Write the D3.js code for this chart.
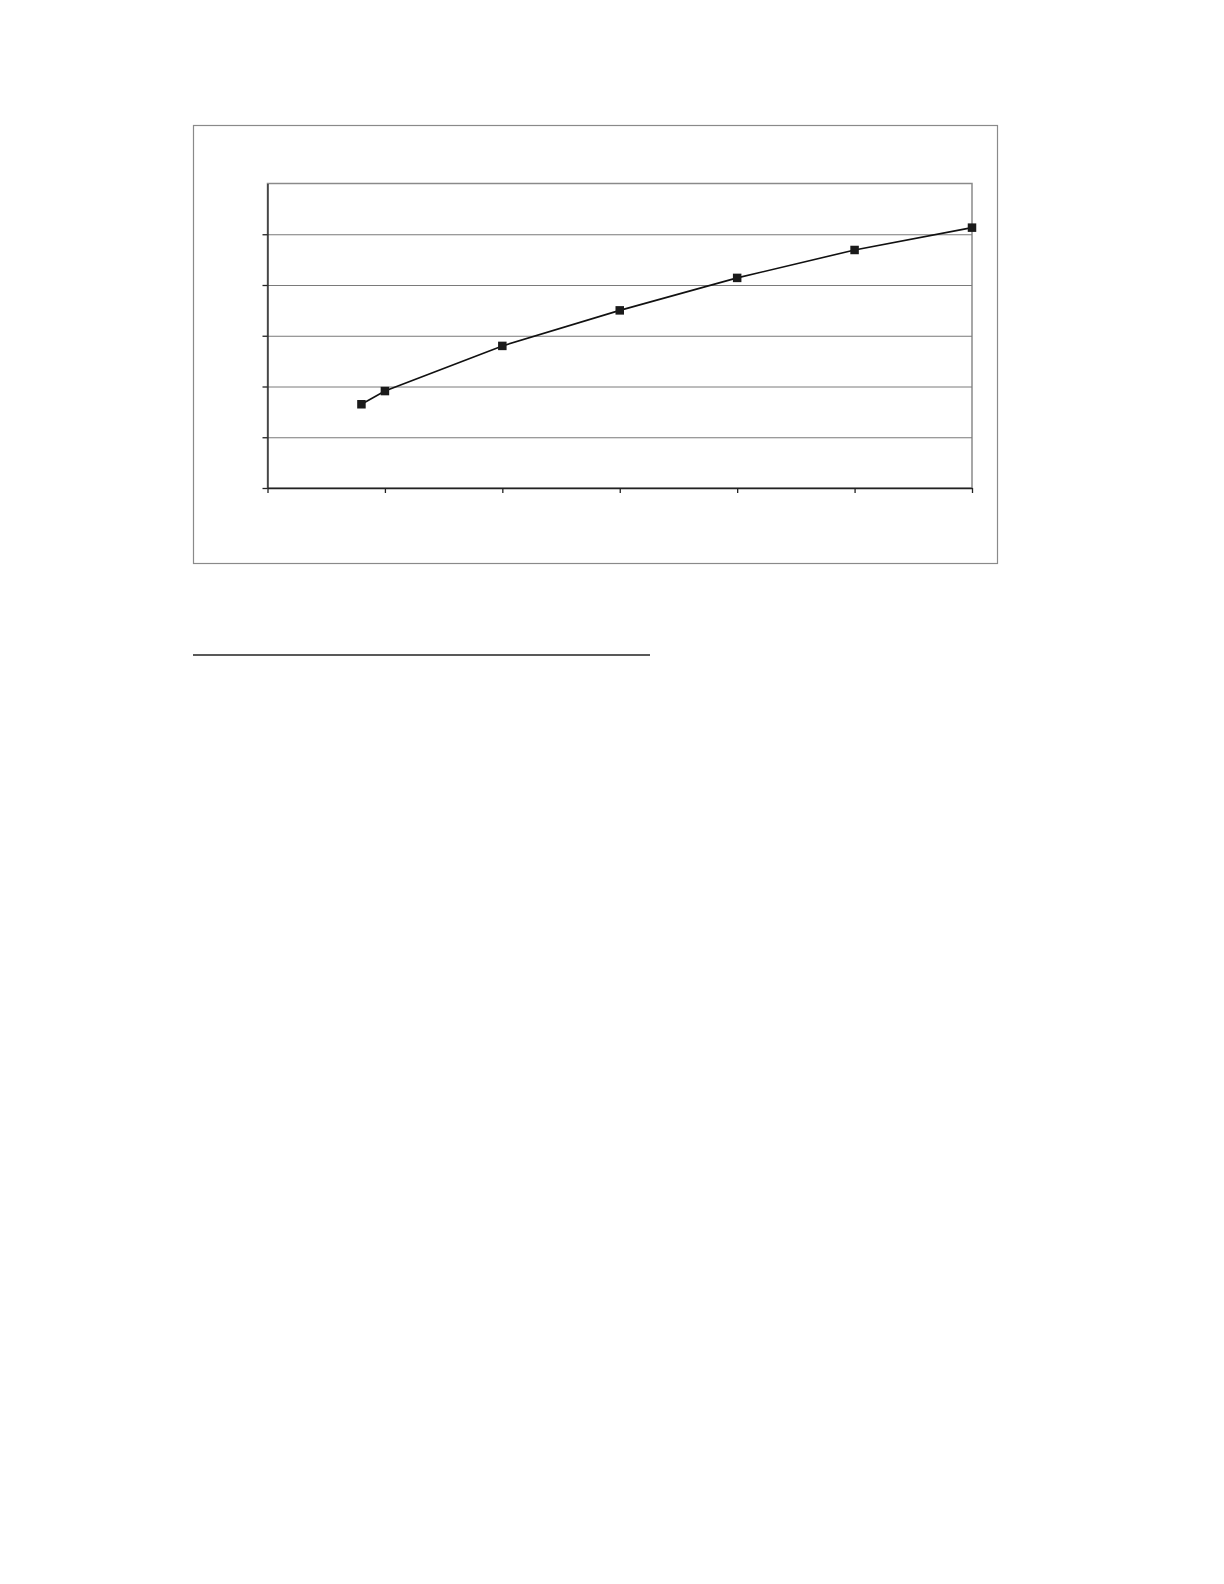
<!DOCTYPE html>
<html>
<head>
<meta charset="utf-8">
<script src="https://cdn.jsdelivr.net/npm/d3@7"></script>
<style>
  body { margin: 0; background: #fff; }
  .grid line { stroke: #7a7a7a; stroke-width: 1; }
  .grid path { display: none; }
  .axis path, .axis line { stroke: #222; stroke-width: 1.3; }
  .axis text { display: none; }
</style>
</head>
<body>
<div id="chart"></div>
<script>
// Data (no labels are printed on the original)
var x_values = [4, 5, 10, 15, 20, 25, 30];
var y_values = [16.5, 19.1, 28.0, 35.0, 41.4, 46.9, 51.3];
var x_ticks = [0, 5, 10, 15, 20, 25, 30];
var y_ticks = [0, 10, 20, 30, 40, 50, 60];

var pageWidth = 1224
var pageHeight = 1584

// outer chart frame and plot area
var frame = {x: 193, y: 125, w: 804, h: 438}
var plot = {left: 267.5, top: 183.5, right: 972, bottom: 488}

var x_scale = d3.scaleLinear()
    .domain([0, 30])
    .range([plot.left, plot.right]);
var y_scale = d3.scaleLinear()
    .domain([0, 60])
    .range([plot.bottom, plot.top]);

var svg = d3.select('#chart')
  .append('svg')
  .attr('width', pageWidth)
  .attr('height', pageHeight)
  .style("background-color", "white")

// Outer frame
svg.append("rect")
    .attr("x", frame.x + 0.5)
    .attr("y", frame.y + 0.5)
    .attr("width", frame.w)
    .attr("height", frame.h)
    .style("fill", "none")
    .style("stroke", "#8a8a8a")
    .style("stroke-width", 1.2)

// Plot area border (top + right in grey)
svg.append("rect")
    .attr("x", plot.left)
    .attr("y", plot.top)
    .attr("width", plot.right - plot.left)
    .attr("height", plot.bottom - plot.top)
    .style("fill", "none")
    .style("stroke", "#8a8a8a")
    .style("stroke-width", 1.5)

// Horizontal gridlines
svg.append("g")
    .attr("class", "grid")
    .attr("transform", "translate(" + plot.left + ",0)")
    .call(d3.axisLeft(y_scale)
        .tickValues(y_ticks.slice(1, -1))
        .tickSize(-(plot.right - plot.left))
        .tickFormat("")
    )

// Axes
svg.append("g")
    .attr("class", "axis")
    .attr("transform", "translate(0," + plot.bottom + ")")
    .call(d3.axisBottom(x_scale)
        .tickValues(x_ticks)
        .tickSizeInner(5)
        .tickSizeOuter(0)
        .tickFormat("")
    )

// y ticks: none at the very top
svg.append("g")
    .attr("class", "axis")
    .attr("transform", "translate(" + plot.left + ",0)")
    .call(d3.axisLeft(y_scale)
        .tickValues(y_ticks.slice(0, -1))
        .tickSizeInner(5)
        .tickSizeOuter(0)
        .tickFormat("")
    )

// Line
var line = d3.line()
    .x(function (d, i) { return x_scale(x_values[i]); })
    .y(function (d) { return y_scale(d); })

svg.append("path")
    .datum(y_values)
    .attr("d", line)
    .style("fill", "none")
    .style("stroke", "#111")
    .style("stroke-width", 1.6)

// Square markers
var markerSize = 8.5
svg.selectAll(".marker")
    .data(y_values)
    .enter()
    .append("rect")
    .attr("class", "marker")
    .attr("x", function (d, i) { return x_scale(x_values[i]) - markerSize / 2; })
    .attr("y", function (d) { return y_scale(d) - markerSize / 2; })
    .attr("width", markerSize)
    .attr("height", markerSize)
    .style("fill", "#1a1a1a")

// Footnote rule below the chart
svg.append("line")
    .attr("x1", 193)
    .attr("x2", 650)
    .attr("y1", 655)
    .attr("y2", 655)
    .style("stroke", "#222")
    .style("stroke-width", 1.6)
</script>
</body>
</html>
